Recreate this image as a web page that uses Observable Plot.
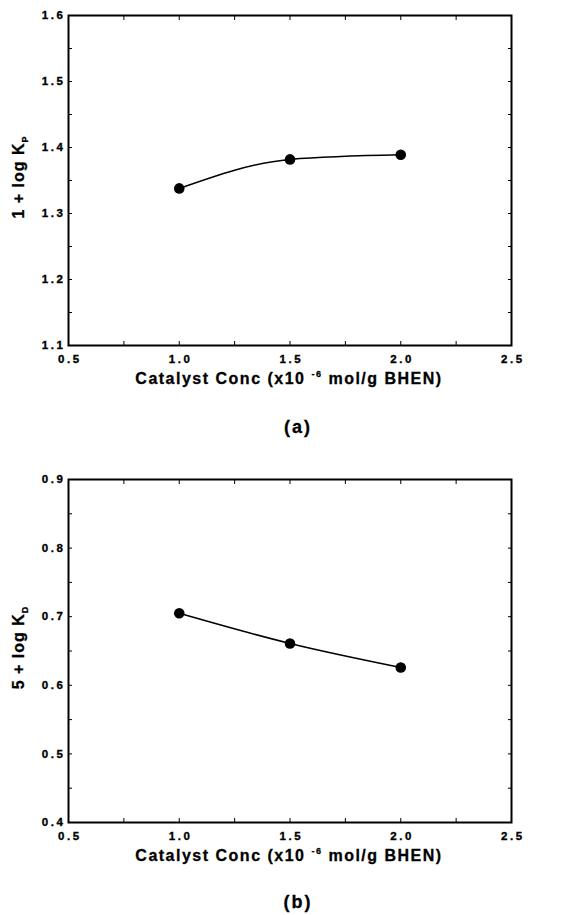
<!DOCTYPE html>
<html><head><meta charset="utf-8">
<script src="https://cdn.jsdelivr.net/npm/d3@7"></script>
<script src="https://cdn.jsdelivr.net/npm/@observablehq/plot@0.6"></script>
<style>
body{margin:0;background:#fff;font-family:"Liberation Sans",Arial,sans-serif;}
#wrap{position:relative;width:569px;height:915px;overflow:hidden;}
#wrap svg{position:absolute;left:0;}
.cap{position:absolute;width:60px;text-align:center;font-weight:bold;font-size:18px;letter-spacing:2px;line-height:22px;-webkit-text-stroke:0.3px #000;}
g[aria-label="x-axis tick label"] text, g[aria-label="y-axis tick label"] text{letter-spacing:2.6px;stroke:#000;stroke-width:0.35px;}
</style></head><body><div id="wrap"></div>
<script>
const catalystConc = [1.0, 1.5, 2.0];
const logKpPlus1 = [1.338, 1.382, 1.389];
const logKdPlus5 = [0.705, 0.661, 0.626];
const xTicks = [0.5, 1.0, 1.5, 2.0, 2.5];
const xMinorTicks = [0.5, 0.75, 1.0, 1.25, 1.5, 1.75, 2.0, 2.25, 2.5];
const yTicksA = [1.1, 1.2, 1.3, 1.4, 1.5, 1.6];
const yMinorA = [1.1, 1.15, 1.2, 1.25, 1.3, 1.35, 1.4, 1.45, 1.5, 1.55, 1.6];
const yTicksB = [0.4, 0.5, 0.6, 0.7, 0.8, 0.9];
const yMinorB = [0.4, 0.45, 0.5, 0.55, 0.6, 0.65, 0.7, 0.75, 0.8, 0.85, 0.9];
const xLabelMain = "Catalyst Conc (x10";
const xLabelSup = "-6";
const xLabelEnd = " mol/g BHEN)";
const yLabelA = ["1 + log K", "P"];
const yLabelB = ["5 + log K", "D"];
const captions = ["(a)", "(b)"];

const wrap = document.getElementById("wrap");

function panel(values, domain, yTicks, yMinor, frameH, yLab, top) {
  const data = catalystConc.map((x, i) => ({x, y: values[i]}));
  const H = 15 + frameH + 50;
  const svg = Plot.plot({
    width: 569, height: H,
    marginLeft: 68, marginRight: 58, marginTop: 15, marginBottom: 50,
    x: {domain: [0.5, 2.5]},
    y: {domain},
    style: {fontFamily: "'Liberation Sans', Arial, sans-serif", fontWeight: "bold", fontSize: "11.5px", color: "#000", background: "#fff"},
    marks: [
      Plot.axisX(xTicks, {anchor: "bottom", tickSize: 0, tickPadding: 9, dx: 1.3, tickFormat: d => d.toFixed(1), label: null}),
      Plot.axisY(yTicks, {anchor: "left", tickSize: 0, tickPadding: 3, tickFormat: d => d.toFixed(1), label: null}),
      Plot.axisX(xMinorTicks, {anchor: "bottom", tickSize: -4, tickFormat: () => "", label: null}),
      Plot.axisX(xMinorTicks, {anchor: "top", tickSize: -4, tickFormat: () => "", label: null}),
      Plot.axisY(yMinor, {anchor: "left", tickSize: -4, tickFormat: () => "", label: null}),
      Plot.axisY(yMinor, {anchor: "right", tickSize: -4, tickFormat: () => "", label: null}),
      Plot.frame({stroke: "#000", strokeWidth: 2}),
      Plot.line(data, {x: "x", y: "y", stroke: "#000", strokeWidth: 1.5, curve: "monotone-x"}),
      Plot.dot(data, {x: "x", y: "y", r: 5.3, fill: "#000", stroke: "none"})
    ]
  });
  svg.style.top = top + "px";
  const s = d3.select(svg);
  // x axis label
  const xt = s.append("text")
    .attr("x", 289).attr("y", 15 + frameH + 39)
    .attr("text-anchor", "middle")
    .attr("font-size", 16).attr("font-weight", "bold").attr("letter-spacing", "1.5px")
    .attr("stroke", "#000").attr("stroke-width", 0.3)
    .attr("font-family", "'Liberation Sans', Arial, sans-serif");
  xt.append("tspan").text(xLabelMain + " ");
  xt.append("tspan").attr("font-size", 9).attr("dy", -7).text(xLabelSup);
  xt.append("tspan").attr("dy", 7).text(xLabelEnd);
  // y axis label
  const cy = 15 + frameH / 2 - 3;
  const yt = s.append("text")
    .attr("transform", `translate(24,${cy}) rotate(-90)`)
    .attr("text-anchor", "middle")
    .attr("font-size", 16).attr("font-weight", "bold").attr("letter-spacing", "1px")
    .attr("stroke", "#000").attr("stroke-width", 0.3)
    .attr("font-family", "'Liberation Sans', Arial, sans-serif");
  yt.append("tspan").text(yLab[0]);
  yt.append("tspan").attr("font-size", 9).attr("dy", 4).text(yLab[1]);
  wrap.appendChild(svg);
  return H;
}

panel(logKpPlus1, [1.1, 1.6], yTicksA, yMinorA, 330, yLabelA, 0);
panel(logKdPlus5, [0.4, 0.9], yTicksB, yMinorB, 343, yLabelB, 464);

[[captions[0], 416], [captions[1], 891]].forEach(([t, y]) => {
  const d = document.createElement("div");
  d.className = "cap";
  d.textContent = t;
  d.style.top = y + "px";
  d.style.left = (298 - 30) + "px";
  wrap.appendChild(d);
});
</script>
</body></html>
